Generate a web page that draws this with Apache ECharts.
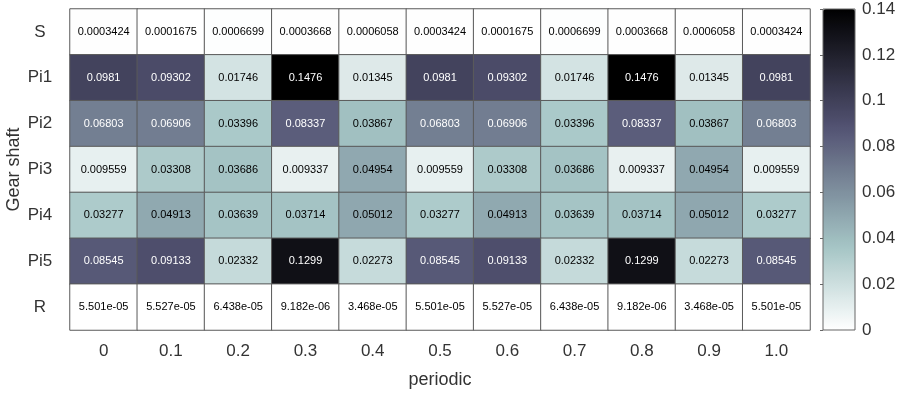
<!DOCTYPE html>
<html>
<head>
<meta charset="utf-8">
<script src="https://cdn.jsdelivr.net/npm/echarts@6/dist/echarts.min.js"></script>
<style>html,body{margin:0;padding:0;background:#fff;}#c{width:900px;height:394px;}</style>
</head>
<body>
<div id="c"></div>
<script>
const xCategories = ['0','0.1','0.2','0.3','0.4','0.5','0.6','0.7','0.8','0.9','1.0'];
const yCategories = ['S','Pi1','Pi2','Pi3','Pi4','Pi5','R'];
const rowS   = [0.0003424,0.0001675,0.0006699,0.0003668,0.0006058,0.0003424,0.0001675,0.0006699,0.0003668,0.0006058,0.0003424];
const rowPi1 = [0.0981,0.09302,0.01746,0.1476,0.01345,0.0981,0.09302,0.01746,0.1476,0.01345,0.0981];
const rowPi2 = [0.06803,0.06906,0.03396,0.08337,0.03867,0.06803,0.06906,0.03396,0.08337,0.03867,0.06803];
const rowPi3 = [0.009559,0.03308,0.03686,0.009337,0.04954,0.009559,0.03308,0.03686,0.009337,0.04954,0.009559];
const rowPi4 = [0.03277,0.04913,0.03639,0.03714,0.05012,0.03277,0.04913,0.03639,0.03714,0.05012,0.03277];
const rowPi5 = [0.08545,0.09133,0.02332,0.1299,0.02273,0.08545,0.09133,0.02332,0.1299,0.02273,0.08545];
const rowR   = [5.501e-05,5.527e-05,6.438e-05,9.182e-06,3.468e-05,5.501e-05,5.527e-05,6.438e-05,9.182e-06,3.468e-05,5.501e-05];
const colorbarTicks = [0,0.02,0.04,0.06,0.08,0.1,0.12,0.14];

const rows = [rowS,rowPi1,rowPi2,rowPi3,rowPi4,rowPi5,rowR];

// reversed 'bone' colormap
function interp(pts, t){
  for (let i=1;i<pts.length;i++){
    if (t<=pts[i][0]){
      const a=pts[i-1], b=pts[i];
      return a[1]+(t-a[0])/(b[0]-a[0])*(b[1]-a[1]);
    }
  }
  return pts[pts.length-1][1];
}
function bone(t){
  const r=interp([[0,0],[0.746032,0.652778],[1,1]],t);
  const g=interp([[0,0],[0.365079,0.319444],[0.746032,0.777778],[1,1]],t);
  const b=interp([[0,0],[0.365079,0.444444],[1,1]],t);
  const h=v=>Math.round(v*255).toString(16).padStart(2,'0');
  return '#'+h(r)+h(g)+h(b);
}
const N=57;
const cmap=[];
for(let i=0;i<N;i++){ cmap.push(bone(1-i/(N-1))); }

function fmtG(v){
  if (v===0) return '0';
  const e=Math.floor(Math.log10(Math.abs(v)));
  if (e < -4 || e >= 4){
    let s=v.toExponential(3);
    let [m,ex]=s.split('e');
    if (m.indexOf('.')>=0) m=m.replace(/0+$/,'').replace(/\.$/,'');
    let sign=ex[0]==='-'?'-':'+';
    let d=ex.replace(/^[+-]/,'');
    if (d.length<2) d='0'+d;
    return m+'e'+sign+d;
  }
  let s=v.toPrecision(4);
  if (s.indexOf('.')>=0) s=s.replace(/0+$/,'').replace(/\.$/,'');
  return s;
}

const data=[];
rows.forEach((row,yi)=>{
  row.forEach((v,xi)=>{
    data.push({value:[xi,yi,v], label:{color: v>0.06?'#ffffff':'#000000'}});
  });
});

const chart=echarts.init(document.getElementById('c'),null,{renderer:'canvas'});
chart.setOption({
  animation:false,
  backgroundColor:'#ffffff',
  textStyle:{fontFamily:'Liberation Sans, Arial, sans-serif'},
  grid:[
    {left:70,top:9,width:740,height:321,outerBoundsMode:'none',containLabel:false},
    {left:823,top:9,width:32,height:321,outerBoundsMode:'none',containLabel:false,show:true,z:10,backgroundColor:'transparent',borderColor:'#666',borderWidth:1}
  ],
  xAxis:[
    {type:'category',gridIndex:0,data:xCategories,
     axisLine:{show:false},axisTick:{show:false},splitLine:{show:false},
     axisLabel:{fontSize:17,color:'#333',margin:13},
     name:'periodic',nameLocation:'middle',nameGap:41,nameMoveOverlap:false,nameTextStyle:{fontSize:18,color:'#333'}},
    {type:'value',gridIndex:1,show:false,min:0,max:1}
  ],
  yAxis:[
    {type:'category',gridIndex:0,data:yCategories,inverse:true,
     axisLine:{show:false},axisTick:{show:false},splitLine:{show:false},
     axisLabel:{fontSize:17,color:'#333',margin:30,align:'center'},
     name:'Gear shaft',nameLocation:'middle',nameGap:47,nameMoveOverlap:false,nameRotate:90,nameTextStyle:{fontSize:18,color:'#333'}},
    {type:'value',gridIndex:1,position:'right',min:colorbarTicks[0],max:colorbarTicks[colorbarTicks.length-1],interval:0.02,z:10,
     axisLine:{show:false},
     axisTick:{show:true,inside:true,length:3,lineStyle:{color:'#666'}},
     splitLine:{show:false},
     axisLabel:{fontSize:17,color:'#333',margin:7,formatter:v=>String(Math.round(v*100)/100)}}
  ],
  visualMap:{
    type:'continuous',min:0,max:0.14,calculable:false,
    left:823,top:9,itemWidth:32,itemHeight:321,padding:0,
    orient:'vertical',text:null,showLabel:false,
    inRange:{color:cmap},
    seriesIndex:0
  },
  series:[{
    type:'heatmap',xAxisIndex:0,yAxisIndex:0,
    data:data,
    label:{show:true,fontSize:11,formatter:p=>fmtG(p.value[2])},
    itemStyle:{borderColor:'#5a5a5a',borderWidth:1},
    emphasis:{disabled:true}
  }]
});
</script>
</body>
</html>
